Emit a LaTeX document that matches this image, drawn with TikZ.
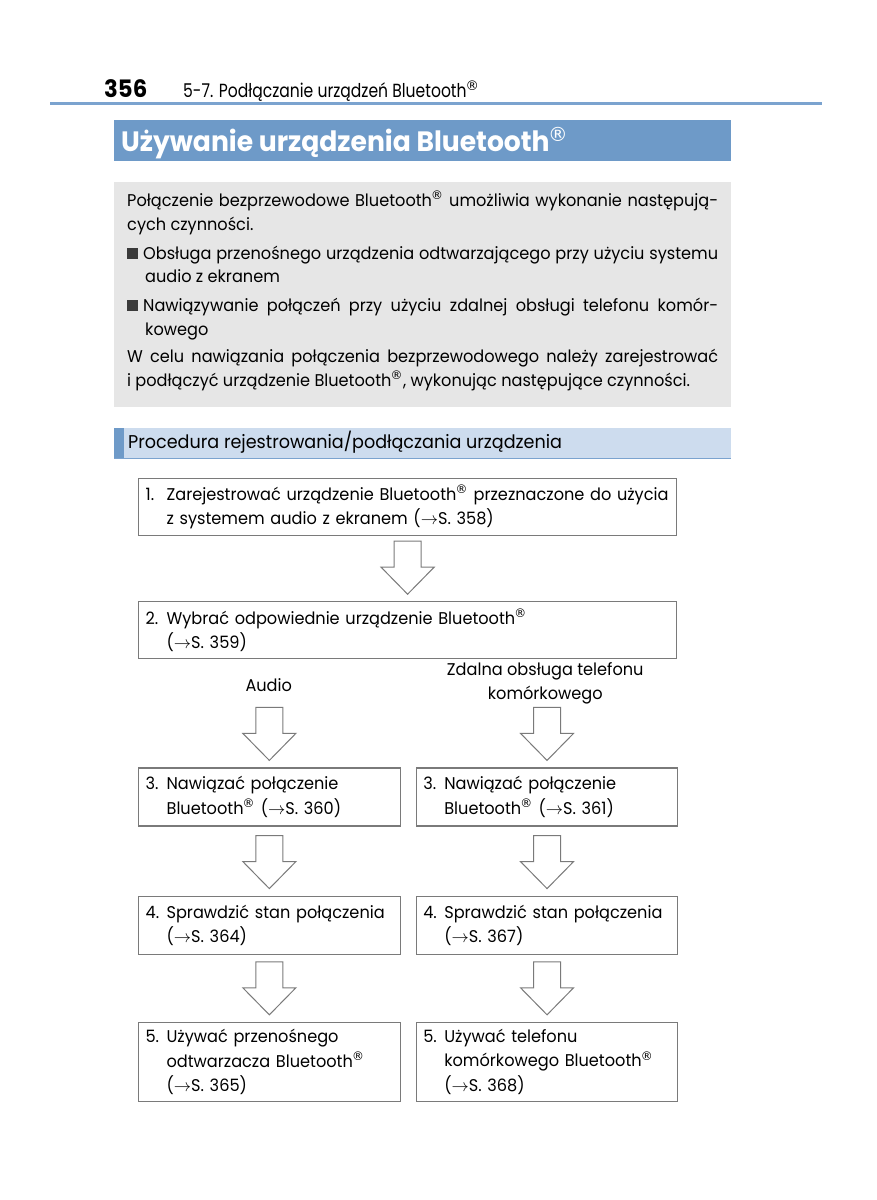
\documentclass[tikz,border=0pt]{standalone}
\usepackage{fontspec}
\setmainfont{Poppins}[FakeStretch=0.95]
\newfontfamily\headfont{Poppins}[FakeStretch=0.82]
\newfontfamily\symfont{DejaVu Sans}
\usetikzlibrary{positioning,calc}

\definecolor{barblue}{HTML}{6E9AC8}
\definecolor{lineblue}{HTML}{7BA3CF}
\definecolor{subblue}{HTML}{CDDCEE}
\definecolor{boxgray}{HTML}{E6E6E6}
\definecolor{framegray}{HTML}{7A7A7A}
\definecolor{bulletgray}{HTML}{3A3A3A}

\newcommand{\stepno}[1]{\makebox[21pt][l]{#1}}
\newcommand{\sqbullet}{{\color{bulletgray}\rule{11pt}{11pt}}\hspace{5pt}}
\newcommand{\fullline}[1]{\makebox[591pt][s]{#1}}
\newcommand{\regmark}{\kern-0.05em\textsuperscript{\symfont\mdseries ®}}
% big hollow arrow ending just above a node
\newcommand{\arrowinto}[1]{%
  \draw[hollowarrow] ($(#1.north)+(-13.5,-60)$) -- ++(0,26) -- ++(-13,0)
    -- ($(#1.north)+(0,-7)$) -- ($(#1.north)+(26.5,-34)$) -- ++(-13,0)
    -- ++(0,-26) -- cycle;}

\begin{document}
\begin{tikzpicture}[x=1pt,y=-1pt,
  every node/.style={inner sep=0pt, font=\fontsize{17}{24.3}\selectfont},
  stepbox/.style={draw=framegray, line width=1.2pt, align=left, inner xsep=7pt},
  stepwide/.style={stepbox, text width=524pt, minimum height=57pt},
  stepcol/.style={stepbox, text width=247.5pt, minimum height=58pt},
  hollowarrow/.style={draw=framegray, line width=1pt, fill=white},
  introline/.style={anchor=base west}]
\fill[white] (0,0) rectangle (877,1200);
\useasboundingbox (0,0) rectangle (877,1200);

% page header
\node[anchor=base west, font=\bfseries\fontsize{24}{24}\selectfont] (pageno) at (104,97) {356};
\node[anchor=base west, font=\headfont\fontsize{19}{19}\selectfont] (chapter) at (183,97) {5-7. Podłączanie urządzeń Bluetooth\regmark};
\draw[lineblue, line width=3pt] (50,103) -- (822,103);

% title bar
\fill[barblue] (114,120) rectangle (731,161);
\node[anchor=base west, text=white, font=\bfseries\fontsize{28}{28}\selectfont] (title) at (121,151) {Używanie urządzenia Bluetooth\regmark};

% intro box
\fill[boxgray] (114,182) rectangle (731,407);
\node[introline] (intro1) at (127,206) {\fullline{Połączenie bezprzewodowe Bluetooth\regmark{} umożliwia wykonanie następują-}};
\node[introline] (intro2) at (127,230) {cych czynności.};
\node[introline] (intro3) at (127,259) {\fullline{\sqbullet Obsługa przenośnego urządzenia odtwarzającego przy użyciu systemu}};
\node[introline] (intro4) at (145,282) {audio z ekranem};
\node[introline] (intro5) at (127,311) {\fullline{\sqbullet Nawiązywanie połączeń przy użyciu zdalnej obsługi telefonu komór-}};
\node[introline] (intro6) at (145,335) {kowego};
\node[introline] (intro7) at (127,362) {\fullline{W celu nawiązania połączenia bezprzewodowego należy zarejestrować}};
\node[introline] (intro8) at (127,386) {i podłączyć urządzenie Bluetooth\regmark, wykonując następujące czynności.};

% sub heading
\fill[subblue] (114,428) rectangle (731,458);
\fill[barblue] (114,428) rectangle (124,458);
\draw[lineblue, line width=1pt] (114,458) -- (731,458);
\node[anchor=base west, font=\fontsize{18.5}{18.5}\selectfont] (subtitle) at (128,448) {Procedura rejestrowania/podłączania urządzenia};

% procedure
\node[stepwide, anchor=north west] (register) at (138,478) {\stepno{1.}Zarejestrować urządzenie Bluetooth\regmark{} przeznaczone do użycia\\\stepno{}z systemem audio z ekranem ($\rightarrow$S. 358)};
\node[stepwide, below=65pt of register] (select) {\stepno{2.}Wybrać odpowiednie urządzenie Bluetooth\regmark\\\stepno{}($\rightarrow$S. 359)};

\node (audio) at (268.75,685) {Audio};
\node[align=center] (remote) at (545.25,683) {Zdalna obsługa telefonu\\komórkowego};

\node[stepcol, below=108pt of select.south west, anchor=north west] (connaudio) {\stepno{3.}Nawiązać połączenie\\\stepno{}Bluetooth\regmark{} ($\rightarrow$S. 360)};
\node[stepcol, right=15pt of connaudio] (connphone) {\stepno{3.}Nawiązać połączenie\\\stepno{}Bluetooth\regmark{} ($\rightarrow$S. 361)};
\node[stepcol, below=69pt of connaudio] (checkaudio) {\stepno{4.}Sprawdzić stan połączenia\\\stepno{}($\rightarrow$S. 364)};
\node[stepcol, right=15pt of checkaudio] (checkphone) {\stepno{4.}Sprawdzić stan połączenia\\\stepno{}($\rightarrow$S. 367)};
\node[stepcol, minimum height=79pt, below=67pt of checkaudio] (useaudio) {\stepno{5.}Używać przenośnego\\\stepno{}odtwarzacza Bluetooth\regmark\\\stepno{}($\rightarrow$S. 365)};
\node[stepcol, minimum height=79pt, right=15pt of useaudio] (usephone) {\stepno{5.}Używać telefonu\\\stepno{}komórkowego Bluetooth\regmark\\\stepno{}($\rightarrow$S. 368)};

\arrowinto{select}
\arrowinto{connaudio}
\arrowinto{connphone}
\arrowinto{checkaudio}
\arrowinto{checkphone}
\arrowinto{useaudio}
\arrowinto{usephone}
\end{tikzpicture}
\end{document}
